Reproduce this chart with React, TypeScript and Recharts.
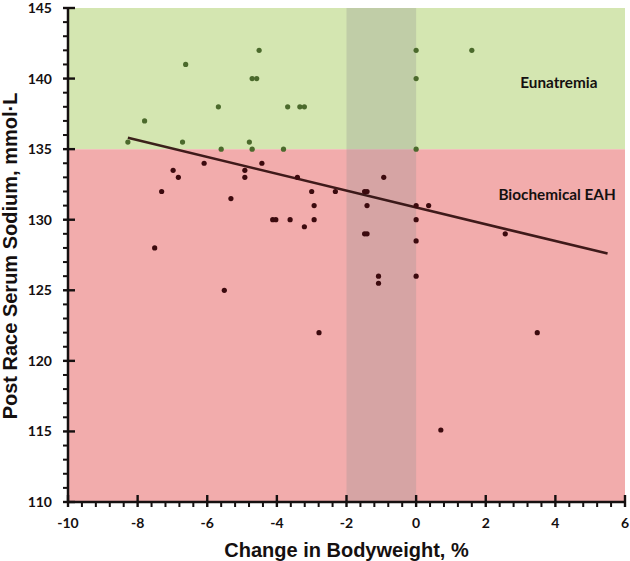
import React from 'react';
import {
  ScatterChart,
  Scatter,
  Cell,
  XAxis,
  YAxis,
  ReferenceArea,
  ReferenceLine,
  ReferenceDot
} from 'recharts';

// change in bodyweight (%) and post race serum sodium (mmol/L)
const weightChange = [
  -4.51, -6.62, -4.71, -4.58, -5.68, -3.69, -3.34, -3.21, -7.8, -8.28, -6.71, -4.79, -5.6, -4.71,
  -3.81, 0, 1.6, 0, 0, -6.09, -4.43, -6.98, -4.92, -6.83, -4.92, -3.41, -7.31, -3.0, -2.32, -5.32,
  -2.93, -4.12, -4.03, -3.62, -2.93, -3.21, -7.51, -0.93, -1.48, -1.41, -1.41, 0, 0.36, 0, -1.48,
  -1.41, 0, 2.56, -5.51, -2.79, -1.08, -1.08, 0, 3.48, 0.71
];
const sodium = [
  142, 141, 140, 140, 138, 138, 138, 138, 137, 135.5, 135.5, 135.5, 135, 135, 135, 142, 142, 140,
  135, 134, 134, 133.5, 133.5, 133, 133, 133, 132, 132, 132, 131.5, 131, 130, 130, 130, 130, 129.5,
  128, 133, 132, 132, 131, 131, 131, 130, 129, 129, 128.5, 129, 125, 122, 126, 125.5, 126, 122,
  115.1
];

const threshold = 135;
const trendStart = { x: -8.28, y: 135.8 };
const trendEnd = { x: 5.5, y: 127.6 };

const xMajor = [-10, -8, -6, -4, -2, 0, 2, 4, 6];
const xTicks = [
  -10, -9.6, -9.2, -8.8, -8.4, -8, -7.6, -7.2, -6.8, -6.4, -6, -5.6, -5.2, -4.8, -4.4, -4, -3.6,
  -3.2, -2.8, -2.4, -2, -1.6, -1.2, -0.8, -0.4, 0, 0.4, 0.8, 1.2, 1.6, 2, 2.4, 2.8, 3.2, 3.6, 4,
  4.4, 4.8, 5.2, 5.6, 6
];
const yMajor = [110, 115, 120, 125, 130, 135, 140, 145];
const yTicks = [
  110, 111, 112, 113, 114, 115, 116, 117, 118, 119, 120, 121, 122, 123, 124, 125, 126, 127, 128,
  129, 130, 131, 132, 133, 134, 135, 136, 137, 138, 139, 140, 141, 142, 143, 144, 145
];

const points = weightChange.map((x, i) => ({ x, y: sodium[i] }));

const ink = '#151010';
const tickFont = { fontFamily: 'Lato, sans-serif', fontWeight: 700, fontSize: 14, fill: ink };
const noteFont = { fontFamily: 'Lato, sans-serif', fontWeight: 700, fontSize: 15.3, fill: ink };
const titleFont = { fontFamily: '"Liberation Sans", Arial, sans-serif', fontWeight: 700, fontSize: 20, fill: ink };

const isMajor = (list: number[], v: number) => list.some((m) => Math.abs(m - v) < 1e-6);

// every tick gets its own stroke; majors run across the axis and carry a label
const XTick = (props: any) => {
  const { x, y, payload } = props;
  const major = isMajor(xMajor, payload.value);
  return (
    <g>
      <rect x={x - (major ? 1.2 : 1)} y={major ? y - 7 : y} width={major ? 2.4 : 2} height={major ? 12 : 5} fill={ink} />
      {major && (
        <text x={x} y={y + 26} textAnchor="middle" {...tickFont}>
          {payload.value}
        </text>
      )}
    </g>
  );
};

const YTick = (props: any) => {
  const { x, y, payload } = props;
  const major = isMajor(yMajor, payload.value);
  return (
    <g>
      <rect x={x - 5} y={y - (major ? 1.2 : 1)} width={major ? 12 : 5} height={major ? 2.4 : 2} fill={ink} />
      {major && (
        <text x={x - 16} y={y + 5} textAnchor="end" {...tickFont}>
          {payload.value}
        </text>
      )}
    </g>
  );
};

const XTitle = (props: any) => {
  const { viewBox } = props;
  return (
    <text x={viewBox.x + viewBox.width / 2} y={557} textAnchor="middle" {...titleFont}>
      Change in Bodyweight, %
    </text>
  );
};

const YTitle = () => (
  <text x={17} y={256} textAnchor="middle" transform="rotate(-90 17 256)" {...titleFont}>
    Post Race Serum Sodium, mmol·L
  </text>
);

const Dot = (props: any) => (
  <circle cx={props.cx} cy={props.cy} r={2.6} fill={props.fill} />
);

export default function App() {
  return (
    <div style={{ width: 630, height: 561, background: '#fff' }}>
      <style>{'body{margin:0}'}</style>
      <ScatterChart width={630} height={561} margin={{ top: 8, right: 5, left: 0, bottom: 0 }}>
        <ReferenceArea x1={-10} x2={6} y1={threshold} y2={145} fill="#d4e6b1" fillOpacity={1} stroke="none" />
        <ReferenceArea x1={-10} x2={6} y1={110} y2={threshold} fill="#f2acac" fillOpacity={1} stroke="none" />
        <Scatter data={points} shape={<Dot />} isAnimationActive={false}>
          {points.map((p, i) => (
            <Cell key={i} fill={p.y >= threshold ? '#4b6a2c' : '#3c0a0e'} />
          ))}
        </Scatter>
        <ReferenceArea x1={-2} x2={0} y1={110} y2={145} fill="#909090" fillOpacity={0.29} stroke="none" />
        <ReferenceLine
          segment={[trendStart, trendEnd]}
          stroke="#250606"
          strokeOpacity={0.88}
          strokeWidth={2.6}
        />
        <ReferenceDot
          x={4.1}
          y={139.7}
          r={0}
          fill="none"
          stroke="none"
          label={{ value: 'Eunatremia', position: 'center', ...noteFont }}
        />
        <ReferenceDot
          x={4.05}
          y={131.8}
          r={0}
          fill="none"
          stroke="none"
          label={{ value: 'Biochemical EAH', position: 'center', ...noteFont }}
        />
        <XAxis
          type="number"
          dataKey="x"
          domain={[-10, 6]}
          ticks={xTicks}
          interval={0}
          allowDataOverflow
          tickSize={0}
          tickMargin={0}
          tickLine={false}
          tick={<XTick />}
          axisLine={{ stroke: ink, strokeWidth: 2.5 }}
          height={59}
          label={<XTitle />}
        />
        <YAxis
          type="number"
          dataKey="y"
          domain={[110, 145]}
          ticks={yTicks}
          interval={0}
          allowDataOverflow
          tickSize={0}
          tickMargin={0}
          tickLine={false}
          tick={<YTick />}
          axisLine={{ stroke: ink, strokeWidth: 2.5 }}
          width={68}
          label={<YTitle />}
        />
      </ScatterChart>
    </div>
  );
}
